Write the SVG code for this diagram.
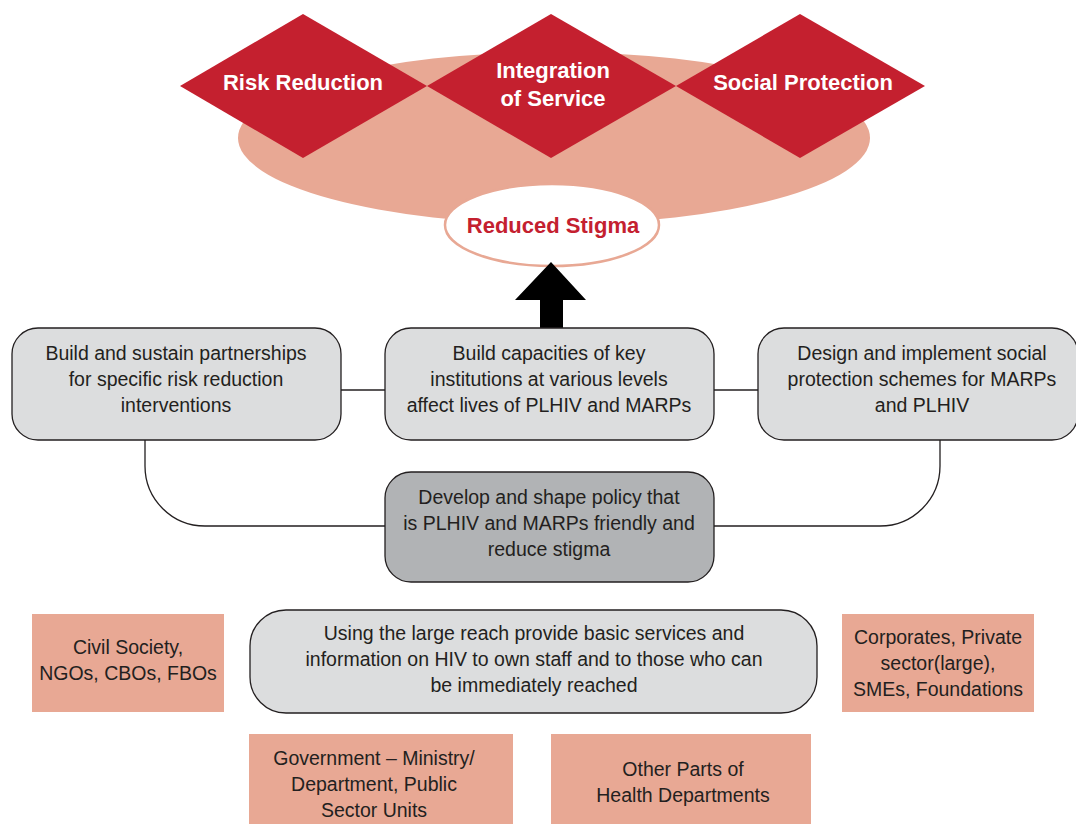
<svg xmlns="http://www.w3.org/2000/svg" width="1076" height="824" viewBox="0 0 1076 824">
  <style>
    .lbl { font-family: "Liberation Sans", Arial, sans-serif; font-size: 19.5px; fill: #231F20; text-anchor: middle; }
    .dia { font-family: "Liberation Sans", Arial, sans-serif; font-size: 22px; font-weight: bold; fill: #FFFFFF; text-anchor: middle; }
    .box { fill: #DCDDDE; stroke: #231F20; stroke-width: 1.3; }
    .boxdark { fill: #B1B3B5; stroke: #231F20; stroke-width: 1.3; }
    .org { fill: #E8A894; }
    .diamond { fill: #C4202F; }
    .conn { fill: none; stroke: #231F20; stroke-width: 1.3; }
  </style>
  <rect width="1076" height="824" fill="#FFFFFF"/>

  <!-- outcome area -->
  <g id="outcome-base">
    <ellipse cx="554" cy="138" rx="316" ry="86" fill="#E8A894"/>
  </g>
  <g id="risk-reduction">
    <polygon class="diamond" points="303,14 427,86 303,158 180,86"/>
    <text class="dia" x="303" y="90">Risk Reduction</text>
  </g>
  <g id="integration-of-service">
    <polygon class="diamond" points="551,14 676,86 551,158 427,86"/>
    <text class="dia" x="553" y="78">Integration</text>
    <text class="dia" x="553" y="106">of Service</text>
  </g>
  <g id="social-protection">
    <polygon class="diamond" points="800,14 925,86 800,158 676,86"/>
    <text class="dia" x="803" y="90">Social Protection</text>
  </g>
  <g id="reduced-stigma">
    <ellipse cx="552" cy="225" rx="107" ry="41" fill="#FFFFFF" stroke="#E8A894" stroke-width="2.5"/>
    <text class="dia" x="553" y="233" style="fill:#C4202F">Reduced Stigma</text>
  </g>

  <!-- connectors -->
  <g id="connectors">
    <polygon points="551,262 586,300 563,300 563,330 540,330 540,300 515,300" fill="#000000"/>
    <line class="conn" x1="341" y1="390" x2="385" y2="390"/>
    <line class="conn" x1="714" y1="390" x2="758" y2="390"/>
    <path class="conn" d="M145,440 L145,466 A60,60 0 0 0 205,526 L385,526"/>
    <path class="conn" d="M940,440 L940,466 A60,60 0 0 1 880,526 L714,526"/>
  </g>

  <!-- strategy boxes -->
  <g id="partnerships">
    <rect class="box" x="12" y="328" width="329" height="112" rx="26"/>
    <text class="lbl" x="176" y="360">Build and sustain partnerships</text>
    <text class="lbl" x="176" y="386">for specific risk reduction</text>
    <text class="lbl" x="176" y="412">interventions</text>
  </g>
  <g id="capacities">
    <rect class="box" x="385" y="328" width="329" height="112" rx="26"/>
    <text class="lbl" x="549" y="360">Build capacities of key</text>
    <text class="lbl" x="549" y="386">institutions at various levels</text>
    <text class="lbl" x="549" y="412">affect lives of PLHIV and MARPs</text>
  </g>
  <g id="social-schemes">
    <rect class="box" x="758" y="328" width="320" height="112" rx="26"/>
    <text class="lbl" x="922" y="360">Design and implement social</text>
    <text class="lbl" x="922" y="386">protection schemes for MARPs</text>
    <text class="lbl" x="922" y="412">and PLHIV</text>
  </g>
  <g id="policy">
    <rect class="boxdark" x="385" y="472" width="329" height="110" rx="26"/>
    <text class="lbl" x="549" y="504">Develop and shape policy that</text>
    <text class="lbl" x="549" y="530">is PLHIV and MARPs friendly and</text>
    <text class="lbl" x="549" y="556">reduce stigma</text>
  </g>

  <!-- actors -->
  <g id="civil-society">
    <rect class="org" x="32" y="614" width="192" height="98"/>
    <text class="lbl" x="128" y="654">Civil Society,</text>
    <text class="lbl" x="128" y="680">NGOs, CBOs, FBOs</text>
  </g>
  <g id="basic-services">
    <rect class="box" x="250" y="610" width="567" height="103" rx="36"/>
    <text class="lbl" x="534" y="640">Using the large reach provide basic services and</text>
    <text class="lbl" x="534" y="666">information on HIV to own staff and to those who can</text>
    <text class="lbl" x="534" y="692">be immediately reached</text>
  </g>
  <g id="corporates">
    <rect class="org" x="842" y="614" width="192" height="98"/>
    <text class="lbl" x="938" y="644">Corporates, Private</text>
    <text class="lbl" x="938" y="670">sector(large),</text>
    <text class="lbl" x="938" y="696">SMEs, Foundations</text>
  </g>
  <g id="government">
    <rect class="org" x="249" y="734" width="264" height="90"/>
    <text class="lbl" x="374" y="765">Government – Ministry/</text>
    <text class="lbl" x="374" y="791">Department, Public</text>
    <text class="lbl" x="374" y="817">Sector Units</text>
  </g>
  <g id="health-departments">
    <rect class="org" x="551" y="734" width="260" height="90"/>
    <text class="lbl" x="683" y="776">Other Parts of</text>
    <text class="lbl" x="683" y="802">Health Departments</text>
  </g>
</svg>
